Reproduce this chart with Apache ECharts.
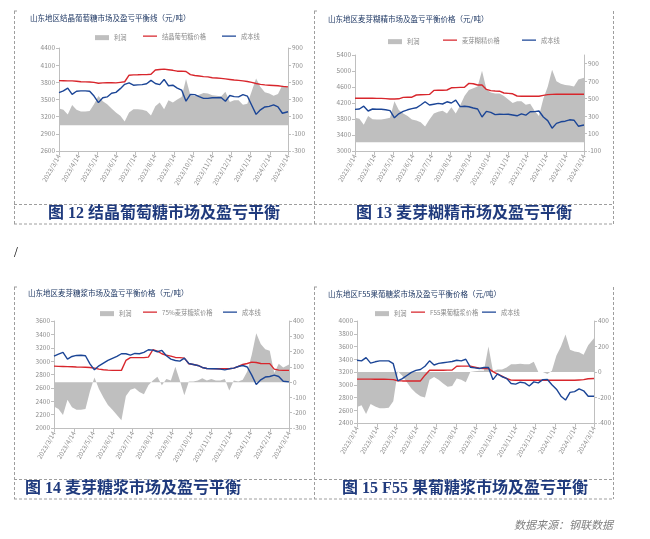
<!DOCTYPE html>
<html><head><meta charset="utf-8">
<script src="https://cdn.jsdelivr.net/npm/echarts@6/dist/echarts.min.js"></script>
<style>html,body{margin:0;padding:0;background:#fff}#c{width:650px;height:539px}</style>
</head><body><div id="c"></div>
<script>
// weekly sample dates (shared by all four panels)
const dates = ['2023-03-14','2023-03-21','2023-03-28','2023-04-04','2023-04-11','2023-04-18','2023-04-25','2023-05-02','2023-05-09','2023-05-16','2023-05-23','2023-05-30','2023-06-06','2023-06-13','2023-06-20','2023-06-27','2023-07-04','2023-07-11','2023-07-18','2023-07-25','2023-08-01','2023-08-08','2023-08-15','2023-08-22','2023-08-29','2023-09-05','2023-09-12','2023-09-19','2023-09-26','2023-10-03','2023-10-10','2023-10-17','2023-10-24','2023-10-31','2023-11-07','2023-11-14','2023-11-21','2023-11-28','2023-12-05','2023-12-12','2023-12-19','2023-12-26','2024-01-02','2024-01-09','2024-01-16','2024-01-23','2024-01-30','2024-02-06','2024-02-13','2024-02-20','2024-02-27','2024-03-05','2024-03-14'];
const xTickDates = ['2023-03-14','2023-04-14','2023-05-14','2023-06-14','2023-07-14','2023-08-14','2023-09-14','2023-10-14','2023-11-14','2023-12-14','2024-01-14','2024-02-14','2024-03-14'];

// Fig 12 结晶葡萄糖
const price12 = [3830,3828,3826,3825,3820,3810,3808,3806,3800,3785, 3790,3792,3792,3790,3800,3810,3925,3930,3932,3935, 3935,3940,4015,4025,4030,4020,4010,3995,3995,3990, 3935,3920,3910,3900,3895,3880,3875,3870,3860,3850, 3840,3835,3825,3815,3800,3780,3765,3755,3750,3745, 3740,3730,3720];
const cost12 = [3620,3650,3700,3590,3645,3650,3650,3645,3560,3445, 3530,3545,3610,3625,3690,3765,3790,3750,3755,3760, 3775,3835,3780,3760,3850,3740,3750,3700,3665,3470, 3590,3585,3550,3520,3520,3530,3530,3535,3470,3570, 3550,3545,3585,3560,3400,3240,3320,3370,3380,3405, 3370,3260,3285];
const profit12 = [195,180,125,235,180,160,160,165,245,340, 280,245,195,150,110,45,150,185,185,180, 165,115,220,265,185,290,265,300,330,540, 350,340,355,375,370,350,345,335,390,270, 290,290,240,250,395,545,445,385,370,345, 365,465,440];
const yL12 = [2600,2900,3200,3500,3800,4100,4400];
const yR12 = [-300,-100,100,300,500,700,900];

// Fig 13 麦芽糊精
const price13 = [4320,4320,4320,4320,4318,4315,4315,4310,4300,4300, 4305,4340,4345,4345,4400,4405,4410,4415,4515,4520, 4520,4525,4580,4585,4590,4595,4690,4680,4650,4650, 4540,4510,4500,4495,4450,4440,4430,4375,4370,4370, 4370,4370,4370,4390,4410,4415,4418,4418,4418,4418, 4418,4418,4418];
const cost13 = [4040,4050,4120,4000,4050,4045,4045,4030,4010,3830, 3930,3990,4030,4060,4080,4150,4230,4150,4170,4190, 4175,4230,4200,4270,4110,4120,4105,4075,4050,3850, 3990,3965,3910,3920,3915,3920,3900,3880,3930,3895, 3980,3985,4000,3850,3760,3570,3690,3730,3745,3780, 3770,3620,3650];
const profit13 = [280,270,200,300,265,260,260,270,280,470, 370,330,300,260,250,230,180,260,330,350, 360,330,400,330,420,530,600,620,640,820, 610,570,560,560,530,490,450,470,470,430, 440,360,300,500,636,830,700,670,655,650, 640,720,740];
const yL13 = [3000,3400,3800,4200,4600,5000,5400];
const yR13 = [-100,100,300,500,700,900];

// Fig 14 麦芽糖浆
const price14 = [2925,2922,2920,2918,2915,2912,2910,2908,2905,2895, 2880,2872,2865,2862,2862,2862,3010,3052,3052,3052, 3052,3060,3170,3150,3110,3087,3075,3055,3052,3045, 2960,2950,2935,2905,2890,2888,2887,2887,2887,2887, 2895,2920,2950,2965,2985,2980,2965,2962,2962,2880, 2865,2862,2862];
const cost14 = [3075,3105,3130,3030,3070,3085,3087,3080,2960,2870, 2930,2970,3010,3040,3070,3110,3110,3090,3115,3110, 3130,3170,3165,3140,3160,3080,3030,3010,3000,3045, 2965,2950,2935,2905,2890,2885,2885,2880,2870,2885, 2895,2920,2935,2912,2790,2650,2720,2762,2770,2790, 2770,2700,2690];
const profit14 = [-160,-175,-215,-115,-165,-180,-180,-175,-60,30, -45,-100,-150,-180,-215,-250,-90,-50,-40,-65, -80,-20,10,35,-20,20,10,100,10,-85, 5,5,10,25,10,20,10,10,20,-55, 10,5,15,70,180,320,250,215,205,60, 120,95,115];
const yL14 = [2000,2200,2400,2600,2800,3000,3200,3400,3600];
const yR14 = [-300,-200,-100,0,100,200,300,400];

// Fig 15 F55果葡糖浆
const price15 = [3088,3088,3088,3088,3087,3087,3086,3085,3080,3062, 3060,3060,3060,3060,3060,3150,3228,3228,3228,3228, 3230,3232,3290,3292,3292,3292,3275,3258,3255,3255, 3205,3166,3134,3098,3072,3070,3070,3070,3070,3070, 3070,3070,3070,3070,3070,3070,3070,3070,3070,3075, 3080,3095,3098];
const cost15 = [3385,3375,3425,3340,3360,3375,3375,3375,3330,3060, 3095,3145,3195,3225,3240,3290,3375,3310,3335,3345, 3355,3365,3385,3375,3400,3275,3265,3255,3270,3270, 3080,3170,3125,3100,3020,3010,3040,3030,2980,3045, 3030,3080,3082,3000,2930,2820,2760,2880,2893,2935, 2905,2820,2820];
const profit15 = [-275,-260,-330,-250,-270,-285,-285,-280,-230,5, -30,-80,-130,-165,-190,-200,-60,-40,-60,-90, -115,-110,-50,-60,-80,0,5,10,10,200, 5,20,20,35,60,60,65,60,60,80, 0,0,-15,10,130,200,295,175,160,155, 135,210,265];
const yL15 = [2400,2600,2800,3000,3200,3400,3600,3800,4000];
const yR15 = [-400,-200,0,200,400];

const titles = ['山东地区结晶葡萄糖市场及盈亏平衡线（元/吨）','山东地区麦芽糊精市场及盈亏平衡价格（元/吨）','山东地区麦芽糖浆市场及盈亏平衡价格（元/吨）','山东地区F55果葡糖浆市场及盈亏平衡价格（元/吨）'];
const priceNames = ['结晶葡萄糖价格','麦芽糊精价格','75%麦芽糖浆价格','F55果葡糖浆价格'];
const profitName = '利润', costName = '成本线';
const captions = ['图 12 结晶葡萄糖市场及盈亏平衡','图 13 麦芽糊精市场及盈亏平衡','图 14 麦芽糖浆市场及盈亏平衡','图 15 F55 果葡糖浆市场及盈亏平衡'];
const sourceText = '数据来源：钢联数据';

function toTs(s){const p=s.split('-').map(Number);return new Date(p[0],p[1]-1,p[2]).getTime();}
const tsDates = dates.map(toTs);
const xTicks = xTickDates.map(toTs);
function pairs(arr){return tsDates.map((t,i)=>[t,arr[i]]);}

const FONT = '"Noto Sans CJK SC", "Noto Sans", sans-serif';
const RED = '#D8262C', BLUE = '#1B4596', GRAY = '#BFBFBF';
const AXC = '#BFBFBF', LBC = '#8C8C8C';
// thin horizontal bar icon (corner specks keep the box 20x8 so the bar stays thin)
const LINE_ICON = 'path://M0,0h0.05v0.05h-0.05Z M0,3.2h20v1.6h-20Z M19.95,7.95h0.05v0.05h-0.05Z';

const panels = [
  {grid:{left:59,top:48,width:229,height:103}, yl:yL12, yr:yR12, yrMax:900, price:price12, cost:cost12, profit:profit12,
   title:[30,19], leg:[95,143,222,37]},
  {grid:{left:355,top:55,width:229,height:96}, yl:yL13, yr:yR13, yrMax:1000, price:price13, cost:cost13, profit:profit13,
   title:[328,20], leg:[388,443,522,41]},
  {grid:{left:54,top:321,width:235,height:107}, yl:yL14, yr:yR14, yrMax:400, price:price14, cost:cost14, profit:profit14,
   title:[28,294], leg:[100,143,223,313]},
  {grid:{left:357,top:321,width:237,height:102}, yl:yL15, yr:yR15, yrMax:400, price:price15, cost:cost15, profit:profit15,
   title:[328,295], leg:[375,411,482,313]}
];

const option = {animation:false, backgroundColor:'#fff', textStyle:{fontFamily:FONT},
  grid:[], xAxis:[], yAxis:[], series:[], legend:[], title:[], graphic:[]};

function fmtDate(v){const d=new Date(v);return d.getFullYear()+'/'+(d.getMonth()+1)+'/'+d.getDate();}
function fmtNum(v){return String(v);}

panels.forEach((p,i)=>{
  option.grid.push(p.grid);
  option.xAxis.push({type:'value', gridIndex:i, min:xTicks[0], max:xTicks[xTicks.length-1], scale:true,
    axisLine:{show:true,onZero:false,lineStyle:{color:AXC}},
    axisTick:{show:true,length:4,customValues:xTicks,lineStyle:{color:AXC}},
    axisLabel:{customValues:xTicks, formatter:fmtDate, rotate:60, fontSize:6.5, color:LBC, margin:4, showMinLabel:true, showMaxLabel:true},
    splitLine:{show:false}});
  option.yAxis.push({type:'value', gridIndex:i, position:'left', min:p.yl[0], max:p.yl[p.yl.length-1],
    axisLine:{show:true,lineStyle:{color:AXC}}, axisTick:{show:true,length:3,customValues:p.yl,lineStyle:{color:AXC}},
    axisLabel:{customValues:p.yl, formatter:fmtNum, fontSize:6.5, color:LBC, margin:4}, splitLine:{show:false}});
  option.yAxis.push({type:'value', gridIndex:i, position:'right', min:p.yr[0], max:p.yrMax,
    axisLine:{show:true,lineStyle:{color:AXC}}, axisTick:{show:true,length:3,customValues:p.yr,lineStyle:{color:AXC}},
    axisLabel:{customValues:p.yr, formatter:fmtNum, fontSize:6.5, color:LBC, margin:4}, splitLine:{show:false}});
  option.series.push({name:profitName, type:'line', xAxisIndex:i, yAxisIndex:2*i+1, data:pairs(p.profit),
    symbol:'none', color:GRAY, lineStyle:{width:0}, areaStyle:{color:GRAY, opacity:1, origin:'auto'}, z:1});
  option.series.push({name:priceNames[i], type:'line', xAxisIndex:i, yAxisIndex:2*i, data:pairs(p.price),
    symbol:'none', color:RED, lineStyle:{width:1.4, color:RED}, z:3});
  option.series.push({name:costName, type:'line', xAxisIndex:i, yAxisIndex:2*i, data:pairs(p.cost),
    symbol:'none', color:BLUE, lineStyle:{width:1.4, color:BLUE}, z:4});
  const ly = p.leg[3]-4;
  const legBase = {selectedMode:false, itemWidth:14, itemHeight:8, itemGap:3, padding:0, top:ly,
    textStyle:{fontSize:6.3, color:'#8C8C8C', fontFamily:FONT}};
  option.legend.push(Object.assign({}, legBase, {left:p.leg[0], data:[{name:profitName, icon:'rect', itemStyle:{color:GRAY, borderWidth:0}}], itemHeight:5, top:ly+1.5}));
  option.legend.push(Object.assign({}, legBase, {left:p.leg[1], data:[{name:priceNames[i], icon:LINE_ICON, itemStyle:{color:RED, borderWidth:0}}]}));
  option.legend.push(Object.assign({}, legBase, {left:p.leg[2], data:[{name:costName, icon:LINE_ICON, itemStyle:{color:BLUE, borderWidth:0}}]}));
  option.title.push({text:titles[i], left:p.title[0], top:p.title[1]-5, padding:0,
    textStyle:{fontSize:7.5, fontWeight:'normal', color:'#1F3864', fontFamily:FONT}});
});

// table frame (dashed lines), captions, footnote
const dash = {stroke:'#9E9E9E', lineWidth:1, lineDash:[3,2]};
function L(x1,y1,x2,y2){option.graphic.push({type:'line', silent:true, shape:{x1,y1,x2,y2}, style:Object.assign({},dash)});}
[[11,204.5,224],[287,479.5,499]].forEach(([t,m,b])=>{
  [14.5,314.5,613.5].forEach(x=>L(x,t,x,b));
  L(14,m,614,m); L(14,b,614,b);
  L(14,t,19,t); L(314,t,319,t);
});
const capFont = 'bold 16px "Liberation Serif", "Noto Sans CJK SC", serif';
const capColor = '#1F3A7D';
[[164,214,'center'],[464,214,'center'],[25,489,'left'],[465,489,'center']].forEach((c,i)=>{
  option.graphic.push({type:'text', silent:true, style:{text:captions[i], x:c[0], y:c[1], align:c[2], verticalAlign:'middle', font:capFont, fill:capColor}});
});
option.graphic.push({type:'text', silent:true, style:{text:'/', x:16, y:253, align:'center', verticalAlign:'middle', font:'14px "Liberation Serif", serif', fill:'#000'}});
option.graphic.push({type:'text', silent:true, style:{text:sourceText, x:613, y:525, align:'right', verticalAlign:'middle', font:'italic 11px "Noto Sans CJK SC", sans-serif', fill:'#7F7F7F'}});

const chart = echarts.init(document.getElementById('c'), null, {renderer:'canvas'});
chart.setOption(option);
</script></body></html>
